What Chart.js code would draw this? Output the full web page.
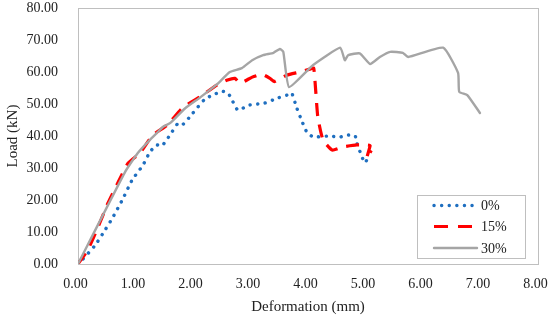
<!DOCTYPE html>
<html><head><meta charset="utf-8">
<script src="https://cdn.jsdelivr.net/npm/chart.js@4/dist/chart.umd.min.js"></script>
<style>html,body{margin:0;padding:0;background:#fff}#wrap{width:550px;height:322px}</style>
</head><body><div id="wrap"><canvas id="c" width="550" height="322"></canvas></div>
<script>
// ---- data ----
const seriesLabels = ['0%', '15%', '30%'];

const x0 = [0, 0.07, 0.30, 0.47, 0.60, 0.77, 0.94, 1.13, 1.25, 1.37, 1.46, 1.60, 1.74, 1.83, 2.00, 2.21, 2.35, 2.50, 2.61, 2.68, 2.78, 2.99, 3.25, 3.48, 3.69, 3.72, 3.80, 3.90, 3.98, 4.09, 4.35, 4.56, 4.68, 4.82, 4.85, 4.94, 4.99, 5.04];
const y0 = [0, 1.2, 5.9, 10.6, 14.4, 20.0, 26.2, 30.9, 35.0, 37.2, 36.9, 40.3, 44.0, 43.7, 47.2, 51.6, 52.8, 54.0, 53.4, 51.2, 48.1, 49.7, 50.3, 51.9, 53.1, 53.4, 49.0, 44.4, 41.2, 39.7, 40.0, 39.7, 40.3, 40.0, 37.8, 33.4, 31.6, 33.1];

const x15 = [0, 0.17, 0.35, 0.52, 0.70, 0.87, 1.08, 1.30, 1.55, 1.83, 2.12, 2.42, 2.60, 2.73, 2.82, 3.03, 3.20, 3.34, 3.42, 3.63, 3.86, 4.03, 4.10, 4.17, 4.26, 4.42, 4.61, 4.85, 5.04, 5.08, 5.02, 5.10];
const y15 = [0, 4.4, 11.6, 19.0, 25.6, 31.5, 34.7, 40.3, 43.4, 49.0, 52.2, 56.0, 57.5, 58.0, 56.5, 58.4, 59.3, 58.0, 57.0, 59.0, 60.0, 60.9, 61.2, 46.0, 38.8, 35.6, 36.6, 37.2, 37.2, 37.0, 33.0, 35.5];

const x30 = [0, 0.82, 1.04, 1.25, 1.37, 1.48, 1.60, 1.86, 2.12, 2.42, 2.64, 2.85, 3.03, 3.22, 3.40, 3.51, 3.57, 3.67, 4.09, 4.56, 4.64, 4.70, 4.90, 5.08, 5.25, 5.43, 5.65, 5.74, 6.35, 6.61, 6.63, 6.77, 6.99];
const y30 = [0, 28.8, 34.7, 38.8, 40.9, 42.9, 44.0, 48.6, 52.0, 56.2, 60.0, 61.2, 63.7, 65.3, 66.0, 67.2, 66.3, 55.3, 62.2, 67.6, 63.7, 65.3, 65.8, 62.5, 64.7, 66.3, 66.0, 64.7, 67.6, 59.7, 53.8, 52.8, 47.2];

const xTickValues = [0, 1, 2, 3, 4, 5, 6, 7, 8];
const yTickValues = [0, 10, 20, 30, 40, 50, 60, 70, 80];
const xTitle = 'Deformation (mm)';
const yTitle = 'Load (kN)';

// ---- chart ----
const FONT = "'Liberation Serif', 'DejaVu Serif', serif";
const TXT = '#222222';
const pts = (xs, ys) => xs.map((x, i) => ({x: x, y: ys[i]}));
const noPad = s => { s.paddingLeft = 0; s.paddingRight = 0; s.paddingTop = 0; s.paddingBottom = 0; };

const frameAndLegend = {
  id: 'frameAndLegend',
  beforeDatasetsDraw(chart) {
    const {ctx, chartArea: a} = chart;
    ctx.save();
    ctx.strokeStyle = '#BFBFBF';
    ctx.lineWidth = 1;
    ctx.strokeRect(Math.round(a.left) + 0.5, Math.round(a.top) + 0.5, Math.round(a.right - a.left), Math.round(a.bottom - a.top));
    ctx.restore();
  },
  afterDraw(chart) {
    const {ctx, chartArea: a} = chart;
    const bx = Math.round(a.right) - 121, by = Math.round(a.bottom) - 69, bw = 108, bh = 63;
    ctx.save();
    ctx.fillStyle = '#fff';
    ctx.fillRect(bx, by, bw, bh);
    ctx.strokeStyle = '#BFBFBF';
    ctx.lineWidth = 1;
    ctx.strokeRect(bx + 0.5, by + 0.5, bw, bh);
    const rows = [10.5, 31.5, 53];
    chart.data.datasets.forEach((ds, i) => {
      const y = by + rows[i];
      ctx.save();
      ctx.strokeStyle = ds.borderColor;
      ctx.lineWidth = ds.borderWidth;
      ctx.lineCap = ds.borderCapStyle || 'butt';
      ctx.setLineDash(ds.legendDash || []);
      ctx.beginPath();
      ctx.moveTo(bx + 17, y);
      ctx.lineTo(bx + 60, y);
      ctx.stroke();
      ctx.restore();
      ctx.fillStyle = TXT;
      ctx.font = '14px ' + FONT;
      ctx.textBaseline = 'middle';
      ctx.textAlign = 'left';
      ctx.fillText(ds.label, bx + 64, y + 1);
    });
    ctx.restore();
  }
};

new Chart(document.getElementById('c'), {
  type: 'line',
  data: {
    datasets: [
      {label: seriesLabels[0], data: pts(x0, y0), borderColor: '#1F6FC0', borderWidth: 3.4,
       borderDash: [0.1, 7.5], borderCapStyle: 'round', legendDash: [0.1, 7.5], order: 2},
      {label: seriesLabels[1], data: pts(x15, y15), borderColor: '#FF0000', borderWidth: 3.2,
       borderDash: [13, 9], borderCapStyle: 'butt', legendDash: [14, 10], order: 1},
      {label: seriesLabels[2], data: pts(x30, y30), borderColor: '#A5A5A5', borderWidth: 2.4,
       borderCapStyle: 'round', legendDash: [], order: 0}
    ]
  },
  options: {
    responsive: false,
    animation: false,
    devicePixelRatio: 1,
    layout: {padding: {left: 0, top: 8, right: 12, bottom: 0}},
    elements: {point: {radius: 0, hoverRadius: 0}, line: {tension: 0.15, fill: false}},
    plugins: {legend: {display: false}, tooltip: {enabled: false}},
    scales: {
      x: {
        type: 'linear', min: 0, max: 8,
        afterFit(s) { s.height = 58; noPad(s); },
        afterBuildTicks(s) { s.ticks = xTickValues.map(v => ({value: v})); },
        grid: {display: false, drawTicks: false},
        border: {display: false},
        ticks: {padding: 12, labelOffset: -2.5, color: TXT, font: {family: FONT, size: 14},
                maxRotation: 0, autoSkip: false, callback: v => Number(v).toFixed(2)},
        title: {display: true, text: xTitle, color: TXT, font: {family: FONT, size: 15},
                padding: {top: 4, bottom: 6}}
      },
      y: {
        type: 'linear', min: 0, max: 80,
        afterFit(s) { s.width = 78; noPad(s); },
        afterBuildTicks(s) { s.ticks = yTickValues.map(v => ({value: v})); },
        grid: {display: false, drawTicks: false},
        border: {display: false},
        ticks: {padding: 20, color: TXT, font: {family: FONT, size: 14}, autoSkip: false,
                callback: v => Number(v).toFixed(2)},
        title: {display: true, text: yTitle, color: TXT, font: {family: FONT, size: 15},
                padding: {top: 4, bottom: 4}}
      }
    }
  },
  plugins: [frameAndLegend]
});
</script>
</body></html>
